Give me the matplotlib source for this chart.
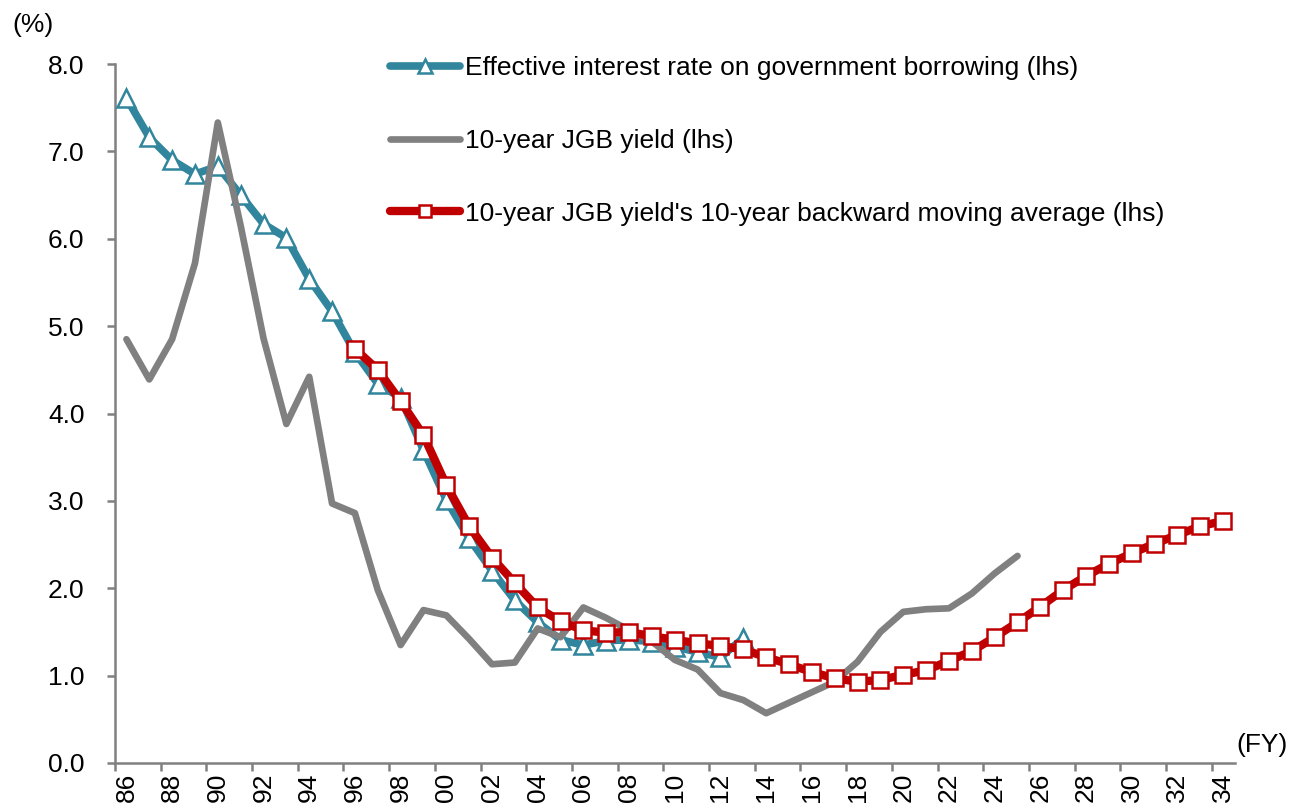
import matplotlib
matplotlib.use("Agg")
import matplotlib.pyplot as plt
from matplotlib.ticker import FixedLocator, NullFormatter, FixedFormatter
from matplotlib.legend_handler import HandlerLine2D

plt.rcParams['font.family'] = ['Liberation Sans', 'DejaVu Sans']

# Fiscal years and series values (%)
years_eff = list(range(1986, 2014))
eff_rate = [7.61, 7.16, 6.90, 6.74, 6.83, 6.50, 6.17, 6.01, 5.54, 5.17,
            4.70, 4.34, 4.18, 3.58, 3.01, 2.57, 2.20, 1.86, 1.61, 1.41,
            1.35, 1.40, 1.41, 1.39, 1.33, 1.27, 1.21, 1.43]

years_jgb = list(range(1986, 2026))
jgb_yield = [4.85, 4.39, 4.85, 5.72, 7.33, 6.15, 4.86, 3.88, 4.42, 2.97,
             2.86, 1.98, 1.35, 1.75, 1.69, 1.42, 1.13, 1.15, 1.54, 1.44,
             1.78, 1.66, 1.52, 1.39, 1.18, 1.07, 0.80, 0.72, 0.57, 0.69,
             0.81, 0.93, 1.16, 1.50, 1.73, 1.76, 1.77, 1.94, 2.17, 2.37]

years_ma = list(range(1996, 2035))
jgb_ma10 = [4.74, 4.50, 4.14, 3.75, 3.18, 2.71, 2.35, 2.06, 1.78, 1.62,
            1.52, 1.49, 1.50, 1.45, 1.41, 1.37, 1.34, 1.30, 1.21, 1.13,
            1.04, 0.97, 0.93, 0.95, 1.01, 1.06, 1.17, 1.28, 1.44, 1.61,
            1.79, 1.98, 2.14, 2.28, 2.40, 2.51, 2.61, 2.71, 2.77]

label_years = list(range(1986, 2035, 2))
x_labels = [f"{y % 100:02d}" for y in label_years]
y_ticks = [0, 1, 2, 3, 4, 5, 6, 7, 8]

legend_labels = ["Effective interest rate on government borrowing (lhs)",
                 "10-year JGB yield (lhs)",
                 "10-year JGB yield's 10-year backward moving average (lhs)"]

TEAL = "#31859C"
GRAY = "#808080"
RED = "#C00000"
FS = 19

W, H = 1289, 808
fig = plt.figure(figsize=(W / 100, H / 100), dpi=100)
ax = fig.add_axes([115 / W, 45 / H, (1234.6 - 115) / W, (763 - 64) / H])

l1, = ax.plot(years_eff, eff_rate, color=TEAL, lw=5.5, marker='^', ms=13,
              mfc='white', mec=TEAL, mew=1.8, zorder=3,
              solid_joinstyle='round', solid_capstyle='round')
l2, = ax.plot(years_jgb, jgb_yield, color=GRAY, lw=4.8, zorder=4,
              solid_capstyle='round', solid_joinstyle='round')
l3, = ax.plot(years_ma, jgb_ma10, color=RED, lw=6, marker='s', ms=11,
              mfc='white', mec=RED, mew=1.8, zorder=5,
              solid_joinstyle='round', solid_capstyle='round')

ax.set_xlim(1985.5, 2034.5)
ax.set_ylim(0, 8)

for s in ['top', 'right']:
    ax.spines[s].set_visible(False)
for s in ['left', 'bottom']:
    ax.spines[s].set_color(GRAY)
    ax.spines[s].set_linewidth(1.8)

ax.set_yticks(y_ticks)
ax.set_yticklabels([f"{v:.1f}" for v in y_ticks])
ax.tick_params(axis='y', direction='out', length=6, width=1.8, color=GRAY,
               labelsize=FS, pad=16)

# category boundaries carry the tick marks, labels sit on every other year
ax.xaxis.set_major_locator(FixedLocator([y - 0.5 for y in label_years]))
ax.xaxis.set_major_formatter(NullFormatter())
ax.xaxis.set_minor_locator(FixedLocator(label_years))
ax.xaxis.set_minor_formatter(FixedFormatter(x_labels))
ax.tick_params(axis='x', which='major', direction='out', length=6, width=1.8, color=GRAY)
ax.tick_params(axis='x', which='minor', length=0, labelsize=FS, pad=7,
               labelrotation=90)

fig.text(12 / W, 1 - 25 / H, "(%)", fontsize=FS, va='center', ha='left')
fig.text(1236 / W, 1 - 745 / H, "(FY)", fontsize=FS, va='center', ha='left')


def small_marker(legline, orig_handle):
    legline.update_from(orig_handle)
    legline.set_markersize(orig_handle.get_markersize() * 0.8)


hm = HandlerLine2D(update_func=small_marker)
leg = ax.legend([l1, l2, l3], legend_labels, loc='upper left',
                bbox_to_anchor=(390 / W, 1 - 56 / H), bbox_transform=fig.transFigure,
                frameon=False, fontsize=FS, handlelength=2.65, handletextpad=0.2,
                labelspacing=1.85, borderpad=0, borderaxespad=0, numpoints=1,
                handler_map={l1: hm, l3: hm})

fig.savefig("out.png", dpi=100)
